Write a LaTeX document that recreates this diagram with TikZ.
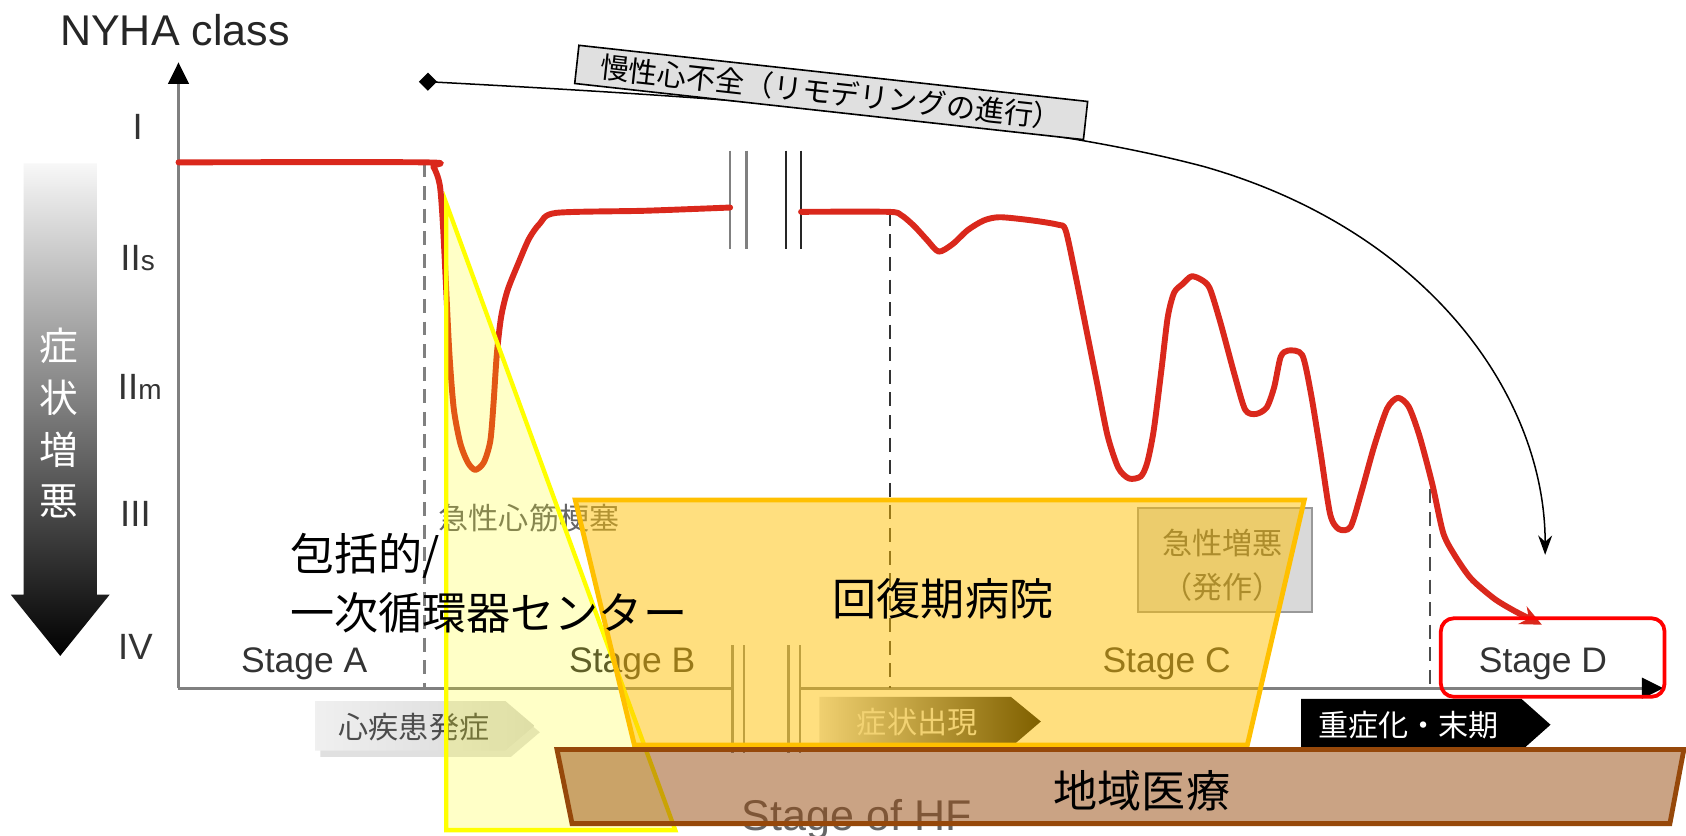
\documentclass[tikz,border=0pt]{standalone}
\usepackage{fontspec}
\setmainfont{Liberation Sans}
\newfontfamily\jp{Noto Sans CJK JP}
\usetikzlibrary{arrows.meta,shapes.geometric}
\newcommand\fsz[1]{\fontsize{#1}{#1}\selectfont}
\definecolor{curvered}{RGB}{218,40,28}
\definecolor{axisgray}{RGB}{128,128,128}
\definecolor{orangeedge}{RGB}{255,192,0}
\definecolor{brownedge}{RGB}{150,72,10}
\definecolor{labelgray}{RGB}{51,51,51}
\definecolor{yellowedge}{RGB}{255,255,0}
\begin{document}
\begin{tikzpicture}[x=1pt,y=-1pt,
  txt/.style={inner sep=0pt, outer sep=0pt},
  latin/.style={txt, font=\fsz{#1}},
  jpt/.style={txt, font=\jp\fsz{#1}},
  axisline/.style={draw=axisgray, line width=2.5pt},
  redline/.style={draw=curvered, line width=5.5pt, line join=round, line cap=round},
  breakgray/.style={draw=gray, line width=2.5pt},
  breakblack/.style={draw=black!85, line width=2.5pt},
  stagedash/.style={dash pattern=on 13pt off 8pt},
  tipblack/.style={-{Triangle[width=19pt,length=20pt,color=black]}},
]
\useasboundingbox (0,0) rectangle (1568,777);
\fill[white] (0,0) rectangle (1568,777);

% ---------- axes ----------
\coordinate (O) at (166,640);
\coordinate (Ytop) at (166,58);
\coordinate (Xb1) at (681,640);
\coordinate (Xb2) at (745,640);
\coordinate (Xend) at (1547,640);
\draw[axisline, tipblack] (O) -- (Ytop);
\draw[axisline] (O) -- (Xb1);
\draw[axisline, tipblack] (Xb2) -- (Xend);

% break marks
\draw[breakgray] (679,140) -- (679,232) (694,140) -- (694,232);
\draw[breakblack] (731,140) -- (731,232) (745,140) -- (745,232);
\draw[breakgray] (681,600) -- (681,700) (692,600) -- (692,700);
\draw[breakgray] (733,600) -- (733,700) (744,600) -- (744,700);

% dashed stage boundaries
\draw[stagedash, draw=gray, line width=3pt] (395,152) -- (395,640);
\draw[stagedash, draw=black!80, line width=2pt] (828,197) -- (828,640);
\draw[stagedash, draw=black!70, line width=2pt] (1330,455) -- (1330,640);

% ---------- red curve ----------
\draw[redline] plot[smooth, tension=0.45] coordinates {
 (166,151) (395,151) (403,155) (409,172) (412,210) (415,270) (418,330)
 (422,380) (428,412) (435,430) (442,437) (450,430) (456,410) (459,375)
 (462,330) (466,295) (472,270) (482,245) (492,222) (502,208) (517,198)
 (600,196) (679,193)};
\draw[redline, -{Stealth[length=20pt,width=18pt]}] plot[smooth, tension=0.45] coordinates {
 (745,197) (826,197) (838,200) (850,210) (862,223) (873,234) (886,227)
 (900,214) (915,205) (930,202) (960,205) (984,209) (991,214) (1000,255)
 (1010,305) (1020,355) (1030,405) (1040,435) (1050,445) (1061,443)
 (1067,430) (1073,400) (1080,345) (1086,295) (1092,272) (1100,264)
 (1108,257) (1117,260) (1125,268) (1135,300) (1148,348) (1158,381)
 (1168,385) (1178,379) (1185,360) (1191,332) (1198,326) (1211,330)
 (1219,365) (1228,420) (1237,478) (1245,492) (1256,490) (1266,458)
 (1278,415) (1290,380) (1300,370) (1310,378) (1320,405) (1332,450)
 (1342,495) (1352,515) (1368,538) (1390,557) (1410,569) (1434,581)};

% ---------- axis labels ----------
\node[latin=40, text=black!85, anchor=west] (nyha) at (56,28) {NYHA class};
\node[latin=34, text=labelgray] (c1) at (128,118) {I};
\node[latin=34, text=labelgray] (c2s) at (128,240) {II\fsz{26}s};
\node[latin=34, text=labelgray] (c2m) at (130,360) {II\fsz{26}m};
\node[latin=34, text=labelgray] (c3) at (126,478) {III};
\node[latin=34, text=labelgray] (c4) at (126,602) {IV};

% stage labels
\node[latin=33, text=labelgray] (sa) at (283,617) {Stage A};
\node[latin=33, text=labelgray] (sb) at (588,617) {Stage B};
\node[latin=33, text=labelgray] (sc) at (1085,617) {Stage C};
\node[latin=40, text=black!60, anchor=base west] (shf) at (690,772) {Stage of HF};

% event labels
\node[jpt=28, text=black!60, anchor=west] (ami) at (408,482) {急性心筋梗塞};
\node[draw=black!40, fill=black!15, line width=2pt, minimum width=162pt,
      minimum height=97pt, inner sep=0pt] (acute) at (1139,521) {};
\node[jpt=28, text=black!65] (acute1) at (1137,505) {急性増悪};
\node[jpt=28, text=black!65] (acute2) at (1137,546) {（発作）};

% chevrons
\fill[black!12] (298,658) -- (475,658) -- (502,681) -- (475,704) -- (298,704) -- cycle;
\shade[left color=black!6, right color=black!16] (293,652) -- (470,652) -- (497,675) -- (470,698) -- (293,698) -- cycle;
\node[jpt=28, text=black!70] (onset) at (385,676) {心疾患発症};

\shade[left color=black!12, right color=black] (762,648) -- (940,648) -- (968,671) -- (940,695) -- (762,695) -- cycle;
\node[jpt=28, text=white!90!black] (sympt) at (853,672) {症状出現};

\fill[black] (1210,650) -- (1415,650) -- (1442,674) -- (1415,698) -- (1210,698) -- cycle;
\node[jpt=28, text=white] (severe) at (1310,674) {重症化・末期};

% ---------- symptom gradient arrow ----------
\shade[top color=black!3, middle color=black!45, bottom color=black]
  (22,152) -- (90,152) -- (90,553) -- (102,553) -- (56,610) -- (10,553) -- (22,553) -- cycle;
\node[jpt=36, text=white] (g1) at (55,322) {症};
\node[jpt=36, text=white] (g2) at (55,370) {状};
\node[jpt=36, text=white] (g3) at (55,418) {増};
\node[jpt=36, text=white] (g4) at (55,466) {悪};

% ---------- overlays ----------
\draw[draw=yellowedge, line width=4pt, fill=yellowedge, fill opacity=0.22, line join=miter]
  (415,189) -- (415,772) -- (628,772) -- cycle;
\draw[draw=orangeedge, line width=4.5pt, fill=orangeedge, fill opacity=0.5]
  (535,465) -- (1213,465) -- (1160,693) -- (590,693) -- cycle;
\draw[draw=brownedge, line width=4.5pt, fill=brownedge, fill opacity=0.5]
  (518,697) -- (1566,697) -- (1553,766) -- (532,766) -- cycle;

% ---------- chronic HF arc ----------
\node[diamond, fill=black, inner sep=0pt, minimum width=17pt, minimum height=17pt] (dia) at (398,76) {};
\coordinate (arcend) at (1437,516);
\draw[line width=1.4pt, -{Stealth[length=18pt,width=13pt]}]
  (dia.center) .. controls (700,92) and (950,110) .. (1120,155)
  .. controls (1330,215) and (1437,370) .. (arcend);
\node[draw=black, line width=1.5pt, fill=black!12, rotate=-6.3, inner xsep=22pt,
      inner ysep=5pt, font=\jp\fsz{27}] (chronic) at (773,86) {慢性心不全（リモデリングの進行）};

% ---------- overlay texts ----------
\node[jpt=41, anchor=west] (center1) at (270,517) {包括的/};
\node[jpt=41, anchor=west] (center2) at (270,570) {一次循環器センター};
\node[jpt=41] (rehab) at (877,557) {回復期病院};
\node[jpt=41] (local) at (1062,735) {地域医療};

% ---------- Stage D ----------
\node[latin=33, text=labelgray] (sd) at (1435,617) {Stage D};
\node[draw=red, line width=3.5pt, rounded corners=12pt, minimum width=208pt,
      minimum height=73pt, inner sep=0pt] (sdbox) at (1444,611.5) {};
\end{tikzpicture}
\end{document}
